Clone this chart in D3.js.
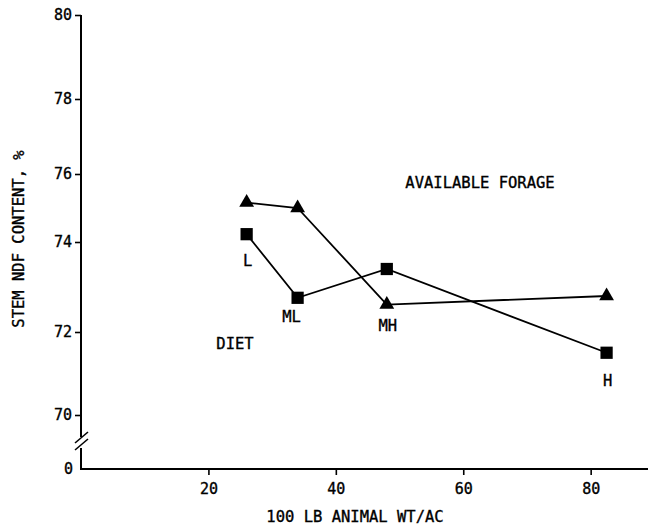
<!DOCTYPE html>
<html>
<head>
<meta charset="utf-8">
<script src="https://cdn.jsdelivr.net/npm/d3@7"></script>
<style>
  body { margin: 0; background: #fff; }
  text { font-family: "DejaVu Sans Mono", "Liberation Mono", monospace; fill: #000; stroke: #000; stroke-width: 0.35px; }
</style>
</head>
<body>
<div id="chart"></div>
<script>
// stocking rate, 100 lb animal wt/ac
var rates = [26, 34, 48, 82.5];
var rateNames = ["L", "ML", "MH", "H"];
// stem NDF content, %
var forage = [75.16, 75.0, 72.61, 72.8];   // triangles
var diet = [74.23, 72.76, 73.4, 71.5];     // squares
var yTicks = [70, 72, 74, 76, 78, 80];
var xTicks = [20, 40, 60, 80];

var width = 656,
    height = 531;

var svg = d3.select("#chart")
    .append("svg")
        .attr("width", width)
        .attr("height", height);

var x = d3.scaleLinear()
    .domain([0, 89])
    .range([81, 648]);

// the original axis is hand drawn, so the gaps between ticks are not even
var y = d3.scaleLinear()
    .domain(yTicks)
    .range([415, 332, 242, 174, 99, 15]);

var y0 = 469;    // where the 0 sits, below the break
var breakTop = 437, breakBottom = 448;

// x axis
var xAxis = svg.append("g")
    .attr("transform", "translate(0," + y0 + ")")
    .call(d3.axisBottom(x).tickValues(xTicks).tickSize(6).tickPadding(8).tickSizeOuter(0));
xAxis.select(".domain").attr("stroke-width", 2).attr("d", "M" + x(0) + ",0H" + x(89));
xAxis.selectAll(".tick line").attr("stroke-width", 1.6);
xAxis.selectAll("text").style("font-size", "15px");

// y axis, upper part
var yAxis = svg.append("g")
    .attr("transform", "translate(" + x(0) + ",0)")
    .call(d3.axisLeft(y).tickValues(yTicks).tickSize(6).tickPadding(3).tickSizeOuter(0));
yAxis.select(".domain").attr("stroke-width", 2).attr("d", "M0," + y(80) + "V" + breakTop);
yAxis.selectAll(".tick line").attr("stroke-width", 1.6);
yAxis.selectAll("text").style("font-size", "15px");

// lower stub and the break marks
svg.append("line")
    .attr("x1", x(0)).attr("x2", x(0))
    .attr("y1", breakBottom).attr("y2", y0 + 1)
    .attr("stroke", "#000").attr("stroke-width", 2);
[0, 7].forEach(function(off) {
    svg.append("line")
        .attr("x1", x(0) - 6).attr("y1", breakTop + 6 + off)
        .attr("x2", x(0) + 7).attr("y2", breakTop - 5 + off)
        .attr("stroke", "#000").attr("stroke-width", 1.6);
});
svg.append("text")
    .attr("x", x(0) - 8)
    .attr("y", y0)
    .attr("dy", "0.35em")
    .attr("text-anchor", "end")
    .style("font-size", "15px")
    .text("0");

// axis titles
svg.append("text")
    .attr("x", 355)
    .attr("y", 522)
    .attr("text-anchor", "middle")
    .style("font-size", "15.5px")
    .text("100 LB ANIMAL WT/AC");

svg.append("text")
    .attr("transform", "translate(19,239) rotate(-90)")
    .attr("dy", "0.35em")
    .attr("text-anchor", "middle")
    .style("font-size", "15.5px")
    .text("STEM NDF CONTENT, %");

// lines
var line = d3.line()
    .x(function(d) { return x(d[0]); })
    .y(function(d) { return y(d[1]); });

var forageData = d3.zip(rates, forage);
var dietData = d3.zip(rates, diet);

svg.append("path")
    .datum(forageData)
    .attr("d", line)
    .attr("fill", "none")
    .attr("stroke", "#000")
    .attr("stroke-width", 1.8);

svg.append("path")
    .datum(dietData)
    .attr("d", line)
    .attr("fill", "none")
    .attr("stroke", "#000")
    .attr("stroke-width", 1.8);

svg.selectAll(".tri")
    .data(forageData)
    .enter()
    .append("path")
    .attr("class", "tri")
    .attr("transform", function(d) { return "translate(" + x(d[0]) + "," + y(d[1]) + ")"; })
    .attr("d", d3.symbol().type(d3.symbolTriangle).size(95));

svg.selectAll(".sq")
    .data(dietData)
    .enter()
    .append("path")
    .attr("class", "sq")
    .attr("transform", function(d) { return "translate(" + x(d[0]) + "," + y(d[1]) + ")"; })
    .attr("d", d3.symbol().type(d3.symbolSquare).size(150));

// stocking rate labels sit under the lower marker of each pair
var labelDy = [26, 19, 21, 28];
rateNames.forEach(function(name, i) {
    var low = Math.min(forage[i], diet[i]);
    svg.append("text")
        .attr("x", x(rates[i]) + (i === 1 ? -6 : 1))
        .attr("y", y(low) + labelDy[i])
        .attr("dy", "0.35em")
        .attr("text-anchor", "middle")
        .style("font-size", "15.5px")
        .text(name);
});

svg.append("text")
    .attr("x", 235)
    .attr("y", 344)
    .attr("dy", "0.35em")
    .attr("text-anchor", "middle")
    .style("font-size", "15.5px")
    .text("DIET");

svg.append("text")
    .attr("x", 480)
    .attr("y", 183)
    .attr("dy", "0.35em")
    .attr("text-anchor", "middle")
    .style("font-size", "15.5px")
    .text("AVAILABLE FORAGE");
</script>
</body>
</html>
